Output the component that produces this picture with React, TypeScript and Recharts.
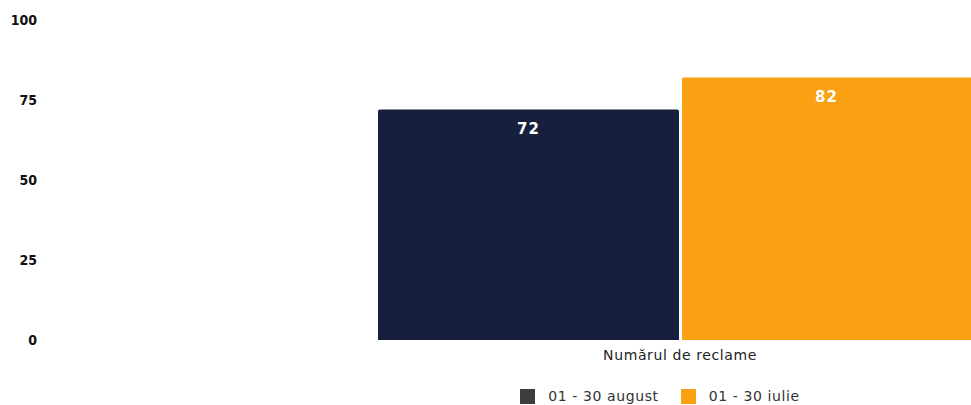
import { BarChart, Bar, XAxis, YAxis, Legend, LabelList } from 'recharts'

const categories = ['Numărul de reclame']
const august = [72]
const iulie = [82]
const seriesNames = ['01 - 30 august', '01 - 30 iulie']
const yTicks = [0, 25, 50, 75, 100]

const BAR_COLORS = ['#161f3d', '#f9a013']
const LEGEND_COLORS = ['#3d3d3d', '#f9a013']
const FONT = '"DejaVu Sans", sans-serif'
const AXIS_FONT = '"DejaVu Sans Condensed", "Liberation Sans Narrow", "DejaVu Sans", sans-serif'
const VISIBLE_W = 971

const data = categories.map((name, i) => ({ name, august: august[i], iulie: iulie[i] }))

// label centred over the part of the bar that is visible in the window
const ValueLabel = (props: any) => {
  const { x, y, width, value } = props
  const right = Math.min(x + width, VISIBLE_W)
  return (
    <text
      x={(x + right) / 2}
      y={y + 19}
      fill="#fff"
      fontSize={15}
      fontWeight="bold"
      fontFamily={FONT}
      letterSpacing={1}
      textAnchor="middle"
      dominantBaseline="central"
    >
      {value}
    </text>
  )
}

const renderLegend = () => (
  <div style={{ display: 'flex', justifyContent: 'center', alignItems: 'center', height: 18, fontFamily: FONT, fontSize: 14, letterSpacing: 0.6, color: '#333' }}>
    {seriesNames.map((n, i) => (
      <div key={n} style={{ display: 'flex', alignItems: 'center', marginLeft: i ? 22 : 0 }}>
        <span style={{ width: 15, height: 15, background: LEGEND_COLORS[i], marginRight: 13, display: 'inline-block' }} />
        <span>{n}</span>
      </div>
    ))}
  </div>
)

export default function App() {
  return (
    <div style={{ position: 'absolute', left: 0, top: 0, width: VISIBLE_W, height: 405, overflow: 'hidden', fontFamily: FONT }}>
      <BarChart
        width={1330}
        height={405}
        data={data}
        margin={{ top: 20, right: 10, bottom: 0, left: 0 }}
        barSize={301}
        barGap={3}
      >
        <XAxis
          dataKey="name"
          axisLine={false}
          tickLine={false}
          tickSize={0}
          tickMargin={10}
          height={47}
          tick={{ fill: '#222', fontSize: 14, fontFamily: FONT, letterSpacing: 0.6 }}
        />
        <YAxis
          domain={[0, 100]}
          ticks={yTicks}
          axisLine={false}
          tickLine={false}
          tickSize={0}
          tickMargin={3}
          width={40}
          tick={{ fill: '#111', fontSize: 14, fontWeight: 'bold', fontFamily: AXIS_FONT }}
        />
        <Legend verticalAlign="bottom" content={renderLegend} />
        <Bar dataKey="august" name={seriesNames[0]} fill={BAR_COLORS[0]} radius={[2, 2, 0, 0]} isAnimationActive={false}>
          <LabelList dataKey="august" content={ValueLabel} />
        </Bar>
        <Bar dataKey="iulie" name={seriesNames[1]} fill={BAR_COLORS[1]} radius={[2, 2, 0, 0]} isAnimationActive={false}>
          <LabelList dataKey="iulie" content={ValueLabel} />
        </Bar>
      </BarChart>
    </div>
  )
}
